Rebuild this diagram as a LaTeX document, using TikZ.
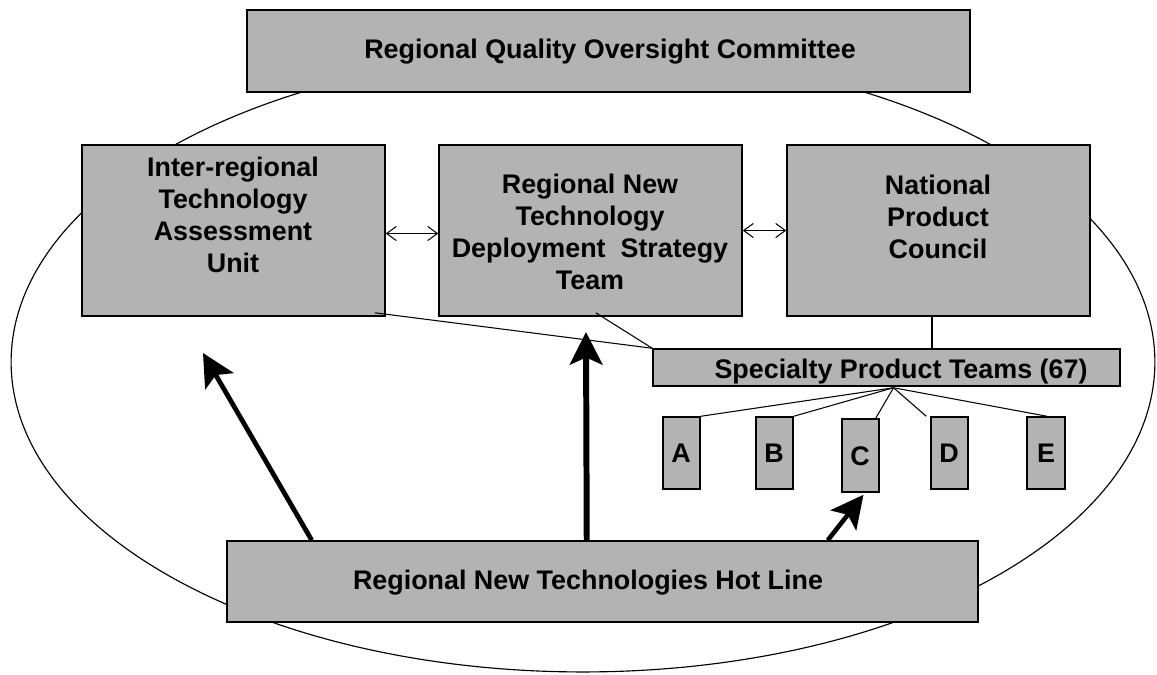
\documentclass[tikz,border=0pt]{standalone}
\usepackage{fontspec}
\setmainfont{Liberation Sans}
\usetikzlibrary{arrows.meta,fit}
\definecolor{boxgray}{RGB}{179,179,179}
\begin{document}
\begin{tikzpicture}[x=0.02cm,y=-0.02cm,
  box/.style={draw=black,line width=0.85pt,fill=boxgray,inner sep=0pt,rectangle},
  label/.style={font=\fontsize{15.3}{18.1}\selectfont\bfseries,align=center,inner sep=0pt},
  thin/.style={line width=0.6pt},
  dbl/.style={line width=0.6pt,{Straight Barb[length=5.5pt,width=8pt]}-{Straight Barb[length=5.5pt,width=8pt]}},
  bigarrow/.style={line width=#1,-{Stealth[length=18.5pt,width=18.5pt,inset=4pt]}},
  bigarrow/.default=2.7pt]
\useasboundingbox (0,0) rectangle (1157,674);

% surrounding region
\draw[line width=0.65pt] (583,362) ellipse [x radius=11.44cm, y radius=6.2cm];

% boxes
\node[box,fit={(247,10) (970,92)}] (top) {};
\node[box,fit={(82,145) (385,316)}] (lbox) {};
\node[box,fit={(439,145) (742,316)}] (mbox) {};
\node[box,fit={(787,145) (1090,316)}] (rbox) {};
\node[box,fit={(653,349) (1120,386)}] (spt) {};
\node[box,fit={(663,417) (700,489)}] (abox) {};
\node[box,fit={(756,417) (793,489)}] (bbox) {};
\node[box,fit={(842,419) (879,492)}] (cbox) {};
\node[box,fit={(931,417) (968,489)}] (dbox) {};
\node[box,fit={(1027,417) (1065,489)}] (ebox) {};
\node[box,fit={(227,541) (978,622)}] (hot) {};

% texts
\node[label] (toptxt) at (610,52) {Regional Quality Oversight Committee};
\node[label] (ltxt) at (233,215) {Inter-regional\\Technology\\Assessment\\Unit};
\node[label] (mtxt) at (590,232) {Regional New\\Technology\\Deployment\ \ Strategy\\Team};
\node[label] (rtxt) at (938,217) {National\\Product\\Council};
\node[label] (spttxt) at (901,372) {Specialty Product Teams (67)};
\node[label] (atxt) at (681,453) {A};
\node[label] (btxt) at (774,453) {B};
\node[label] (ctxt) at (860,456) {C};
\node[label] (dtxt) at (949,453) {D};
\node[label] (etxt) at (1046,453) {E};
\node[label] (hottxt) at (588,583) {Regional New Technologies Hot Line};

% two-way links between the upper units
\draw[dbl] ([shift={(0,3)}]lbox.east) -- ([shift={(0,3)}]mbox.west);
\draw[dbl] (mbox.east) -- (rbox.west);

% links to the specialty teams
\coordinate (rc) at (932,0);
\draw[thin] ([shift={(-11,-4)}]lbox.south east) -- (spt.north west);
\draw[thin] ([shift={(-147,-4)}]mbox.south east) -- (spt.north west);
\draw[thin] (rbox.south -| rc) -- (spt.north -| rc);

% fan to the individual teams
\coordinate (hub) at ([shift={(7,1)}]spt.south);
\draw[thin] (hub) -- (abox.north east);
\draw[thin] (hub) -- (bbox.north east);
\draw[thin] (hub) -- ([shift={(-4,0)}]cbox.north east);
\draw[thin] (hub) -- ([shift={(-4,0)}]dbox.north west);
\draw[thin] (hub) -- ([shift={(1,0)}]ebox.north);

% hot line feeds
\coordinate (ltip) at (203,353);
\coordinate (mtip) at (586,332);
\draw[bigarrow] ([shift={(-667,0)}]hot.north east) -- (ltip);
\draw[bigarrow=3.4pt] ([shift={(-392,0)}]hot.north east) -- (mtip);
\draw[bigarrow=2.6pt] ([shift={(-151,0)}]hot.north east) -- ([shift={(3,2)}]cbox.south);
\end{tikzpicture}
\end{document}
